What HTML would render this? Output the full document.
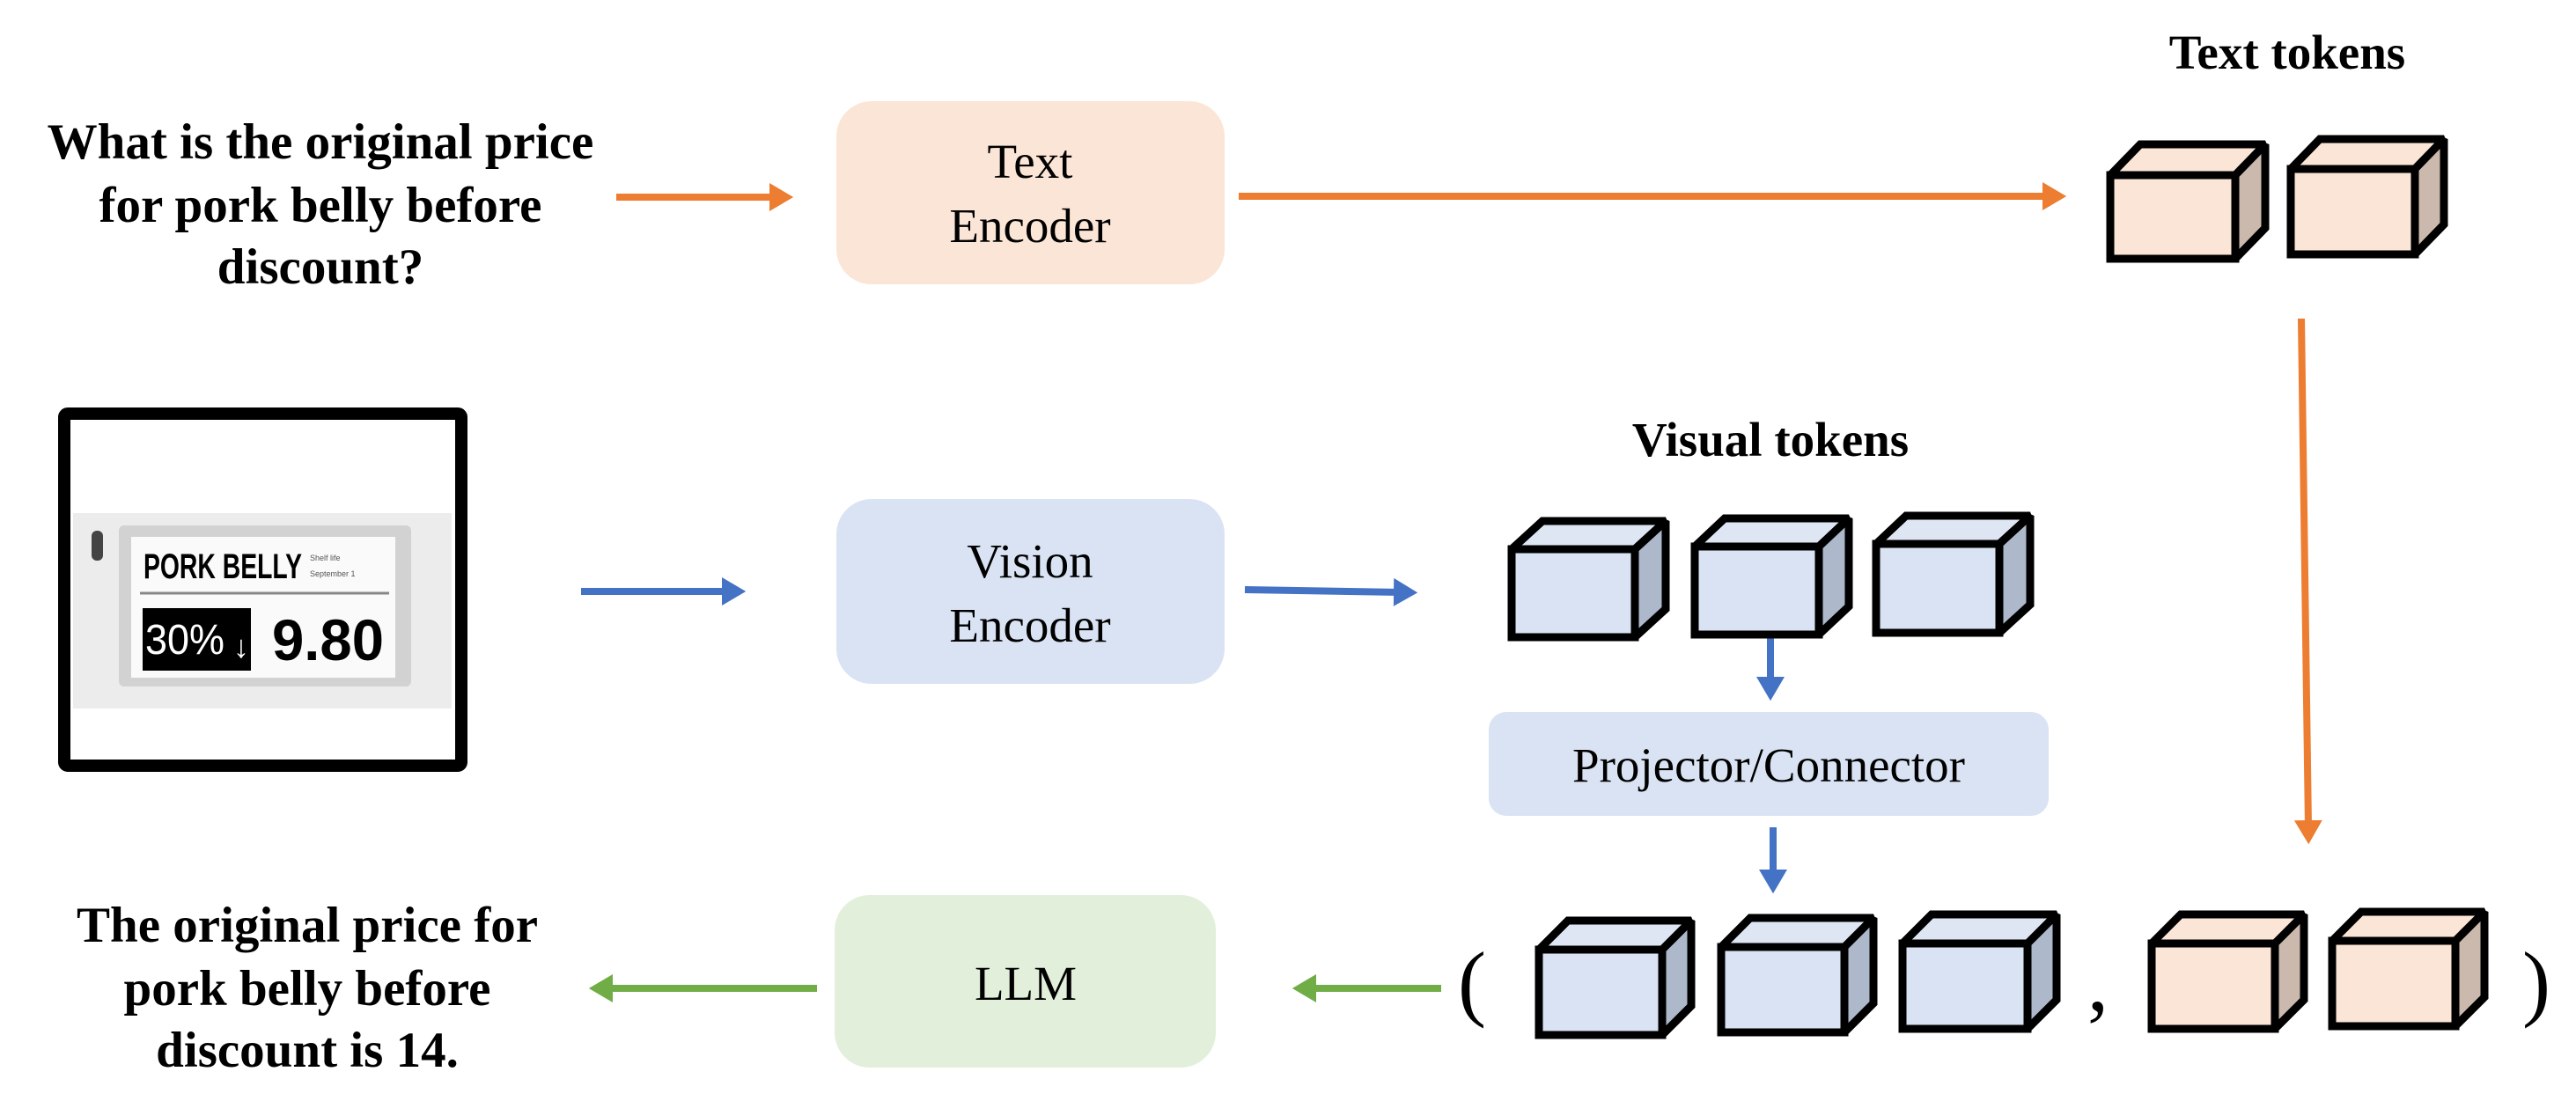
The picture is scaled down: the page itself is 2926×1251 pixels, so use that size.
<!DOCTYPE html>
<html><head><meta charset="utf-8"><style>
html,body{margin:0;padding:0;background:#fff;}
svg{display:block;}
</style></head><body>
<svg width="2926" height="1251" viewBox="0 0 2926 1251" xmlns="http://www.w3.org/2000/svg">
<defs>
<marker id="ao" markerWidth="4" markerHeight="4" refX="1" refY="2" orient="auto" markerUnits="strokeWidth"><path d="M0,0 L3.4,2 L0,4 z" fill="#ed7d31"/></marker>
<marker id="ab" markerWidth="4" markerHeight="4" refX="1" refY="2" orient="auto" markerUnits="strokeWidth"><path d="M0,0 L3.4,2 L0,4 z" fill="#4472c4"/></marker>
<marker id="ag" markerWidth="4" markerHeight="4" refX="1" refY="2" orient="auto" markerUnits="strokeWidth"><path d="M0,0 L3.4,2 L0,4 z" fill="#70ad47"/></marker>
</defs>

<g font-family="Liberation Serif, serif" fill="#000">
<g font-weight="bold" font-size="57" text-anchor="middle">
<text x="364" y="180">What is the original price</text>
<text x="364" y="252">for pork belly before</text>
<text x="364" y="322">discount?</text>
</g>
<g font-weight="bold" font-size="57" text-anchor="middle">
<text x="349" y="1070">The original price for</text>
<text x="349" y="1142">pork belly before</text>
<text x="349" y="1212">discount is 14.</text>
</g>
<g font-weight="bold" font-size="55" text-anchor="middle">
<text x="2598" y="78">Text tokens</text>
<text x="2011" y="518">Visual tokens</text>
</g>
</g>

<rect x="950" y="115" width="441" height="208" rx="40" fill="#fbe5d6"/>
<rect x="950" y="567" width="441" height="210" rx="40" fill="#dae3f3"/>
<rect x="1691" y="809" width="636" height="118" rx="20" fill="#dae3f3"/>
<rect x="948" y="1017" width="433" height="196" rx="40" fill="#e2efda"/>
<g font-family="Liberation Serif, serif" font-size="55" text-anchor="middle" fill="#000">
<text x="1170" y="202">Text</text>
<text x="1170" y="275">Encoder</text>
<text x="1170" y="656">Vision</text>
<text x="1170" y="729">Encoder</text>
<text x="2009" y="888">Projector/Connector</text>
<text x="1165" y="1136">LLM</text>
<text x="1672" y="1148" font-size="96">(</text>
<text x="2383" y="1148" font-size="96">,</text>
<text x="2881" y="1148" font-size="96">)</text>
</g>

<g stroke-width="8" fill="none">
<line x1="700" y1="224" x2="882" y2="224" stroke="#ed7d31" marker-end="url(#ao)"/>
<line x1="1407" y1="223" x2="2328" y2="223" stroke="#ed7d31" marker-end="url(#ao)"/>
<line x1="2614" y1="362" x2="2622" y2="940" stroke="#ed7d31" marker-end="url(#ao)"/>
<line x1="660" y1="672" x2="828" y2="672" stroke="#4472c4" marker-end="url(#ab)"/>
<line x1="1414" y1="670" x2="1591" y2="673" stroke="#4472c4" marker-end="url(#ab)"/>
<line x1="2011" y1="725" x2="2011" y2="777" stroke="#4472c4" marker-end="url(#ab)"/>
<line x1="2014" y1="940" x2="2014" y2="996" stroke="#4472c4" marker-end="url(#ab)"/>
<line x1="928" y1="1123" x2="688" y2="1123" stroke="#70ad47" marker-end="url(#ag)"/>
<line x1="1637" y1="1123" x2="1487" y2="1123" stroke="#70ad47" marker-end="url(#ag)"/>
</g>

<g stroke="#000" stroke-width="9" stroke-linejoin="miter" stroke-miterlimit="1.5">
<g fill="#fbe5d6">
<polygon points="2397,199 2431,164 2573,164 2539,199"/><polygon points="2539,199 2573,164 2573,259 2539,294" fill="#cbb9ad"/><rect x="2397" y="199" width="142" height="95"/>
<polygon points="2602,192 2635,158 2776,158 2743,192"/><polygon points="2743,192 2776,158 2776,255 2743,289" fill="#cbb9ad"/><rect x="2602" y="192" width="141" height="97"/>
</g>
<g fill="#dae3f3">
<polygon points="1717,624 1752,592 1892,592 1857,624" fill="#dfe6f3"/><polygon points="1857,624 1892,592 1892,692 1857,724" fill="#adb9ca"/><rect x="1717" y="624" width="140" height="100"/>
<polygon points="1925,621 1959,589 2100,589 2066,621" fill="#dfe6f3"/><polygon points="2066,621 2100,589 2100,689 2066,721" fill="#adb9ca"/><rect x="1925" y="621" width="141" height="100"/>
<polygon points="2131,618 2165,586 2306,586 2271,618" fill="#dfe6f3"/><polygon points="2271,618 2306,586 2306,687 2271,719" fill="#adb9ca"/><rect x="2131" y="618" width="140" height="101"/>
</g>
<g fill="#dae3f3">
<polygon points="1748,1079 1781,1046 1921,1046 1888,1079" fill="#dfe6f3"/><polygon points="1888,1079 1921,1046 1921,1143 1888,1176" fill="#adb9ca"/><rect x="1748" y="1079" width="140" height="97"/>
<polygon points="1955,1076 1988,1043 2128,1043 2095,1076" fill="#dfe6f3"/><polygon points="2095,1076 2128,1043 2128,1140 2095,1173" fill="#adb9ca"/><rect x="1955" y="1076" width="140" height="97"/>
<polygon points="2161,1072 2194,1039 2336,1039 2303,1072" fill="#dfe6f3"/><polygon points="2303,1072 2336,1039 2336,1136 2303,1169" fill="#adb9ca"/><rect x="2161" y="1072" width="142" height="97"/>
</g>
<g fill="#fbe5d6">
<polygon points="2444,1072 2477,1039 2617,1039 2584,1072"/><polygon points="2584,1072 2617,1039 2617,1136 2584,1169" fill="#cbb9ad"/><rect x="2444" y="1072" width="140" height="97"/>
<polygon points="2649,1069 2682,1036 2822,1036 2789,1069"/><polygon points="2789,1069 2822,1036 2822,1133 2789,1166" fill="#cbb9ad"/><rect x="2649" y="1069" width="140" height="97"/>
</g>
</g>

<rect x="73" y="470" width="451" height="400" rx="4" fill="#fff" stroke="#000" stroke-width="14"/>
<rect x="83" y="583" width="430" height="222" fill="#ececec"/>
<rect x="135" y="597" width="332" height="183" rx="6" fill="#d2d2d2"/>
<rect x="149" y="610" width="300" height="160" fill="#fafafa"/>
<rect x="104" y="603" width="13" height="34" rx="6" fill="#444"/>
<text x="163" y="657" font-family="Liberation Sans, sans-serif" font-weight="bold" font-size="40" textLength="180" lengthAdjust="spacingAndGlyphs">PORK BELLY</text>
<text x="352" y="637" font-family="Liberation Sans, sans-serif" font-size="9" fill="#555">Shelf life</text>
<text x="352" y="655" font-family="Liberation Sans, sans-serif" font-size="9" fill="#555">September 1</text>
<line x1="159" y1="674" x2="442" y2="674" stroke="#888" stroke-width="3"/>
<rect x="162" y="691" width="123" height="71" fill="#000"/>
<text x="165" y="743" font-family="Liberation Sans, sans-serif" font-size="48" fill="#fff" textLength="90" lengthAdjust="spacingAndGlyphs">30%</text>
<text x="265" y="747" font-family="Liberation Sans, sans-serif" font-size="36" fill="#fff">↓</text>
<text x="309" y="750" font-family="Liberation Sans, sans-serif" font-weight="bold" font-size="66" textLength="127" lengthAdjust="spacingAndGlyphs">9.80</text>
</svg>
</body></html>
